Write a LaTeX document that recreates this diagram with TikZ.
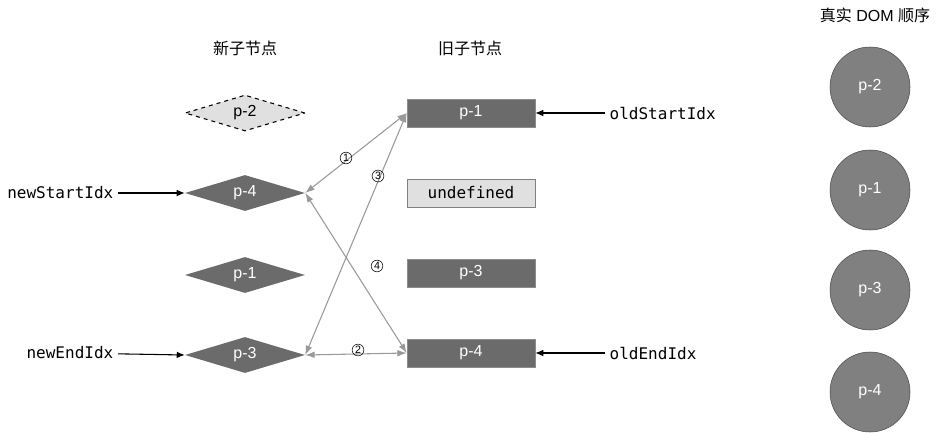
\documentclass[tikz,border=0pt]{standalone}
\usepackage{fontspec}
\setmainfont{Liberation Sans}
\newfontfamily\cjk{Noto Sans CJK SC}
\newfontfamily\mono{DejaVu Sans Mono}
\usetikzlibrary{shapes.geometric,arrows.meta}
\begin{document}
\begin{tikzpicture}[x=0.75pt,y=-0.75pt,
 dia/.style={diamond,aspect=3.3,minimum width=90pt,minimum height=27pt,inner sep=0pt,fill=black!58,text=white,font=\large},
 box/.style={rectangle,minimum width=96pt,minimum height=21pt,inner sep=0pt,fill=black!58,draw=black!45,text=white,font=\large},
 dom/.style={circle,minimum size=60pt,fill=black!50,draw=black!70,text=white,font=\large},
 idx/.style={font=\mono\large},
 blk/.style={-{Latex[length=6pt,width=5pt]},thick},
 gar/.style={{Latex[length=7pt,width=5pt]}-{Latex[length=7pt,width=5pt]},draw=black!40,thick},
 num/.style={circle,draw,inner sep=0.6pt,font=\footnotesize,fill=white,fill opacity=0,text opacity=1}]
\useasboundingbox (0,0) rectangle (942,432);
\node[font=\cjk\large] (t1) at (245,48) {新子节点};
\node[font=\cjk\large] (t2) at (470,48) {旧子节点};
\node[font=\large] (t3) at (875,15) {{\cjk 真实} DOM {\cjk 顺序}};
\node[dia,fill=black!12,text=black,draw,dashed,thick] (n2) at (245,113) {p-2};
\node[dia] (n4) at (245,193) {p-4};
\node[dia] (n1) at (245,275) {p-1};
\node[dia] (n3) at (245,355) {p-3};
\node[box] (o1) at (471,113) {p-1};
\node[box,fill=black!12,text=black,draw=black!50] (ou) at (471,193) {\mono undefined};
\node[box] (o3) at (471,273) {p-3};
\node[box] (o4) at (471,353) {p-4};
\node[dom] (d2) at (870,87) {p-2};
\node[dom] (d1) at (870,190) {p-1};
\node[dom] (d3) at (870,290) {p-3};
\node[dom] (d4) at (870,392) {p-4};
\node[idx,anchor=east] (ns) at (118,193) {newStartIdx};
\node[idx,anchor=east] (ne) at (118,353) {newEndIdx};
\node[idx,anchor=west] (os) at (605,113) {oldStartIdx};
\node[idx,anchor=west] (oe) at (605,353) {oldEndIdx};
\draw[blk] (ns) -- (n4.west);
\draw[blk] (ne) -- (n3.west);
\draw[blk] (os) -- (o1.east);
\draw[blk] (oe) -- (o4.east);
\draw[gar] (n4.east) -- (o1.west);
\draw[gar] (n3.east) -- (o4.west);
\draw[gar] (n3.east) -- (o1.west);
\draw[gar] (n4.east) -- (o4.west);
\node[num] (c1) at (346,158) {1};
\node[num] (c2) at (358,350) {2};
\node[num] (c3) at (378,176) {3};
\node[num] (c4) at (377,266) {4};
\end{tikzpicture}
\end{document}
